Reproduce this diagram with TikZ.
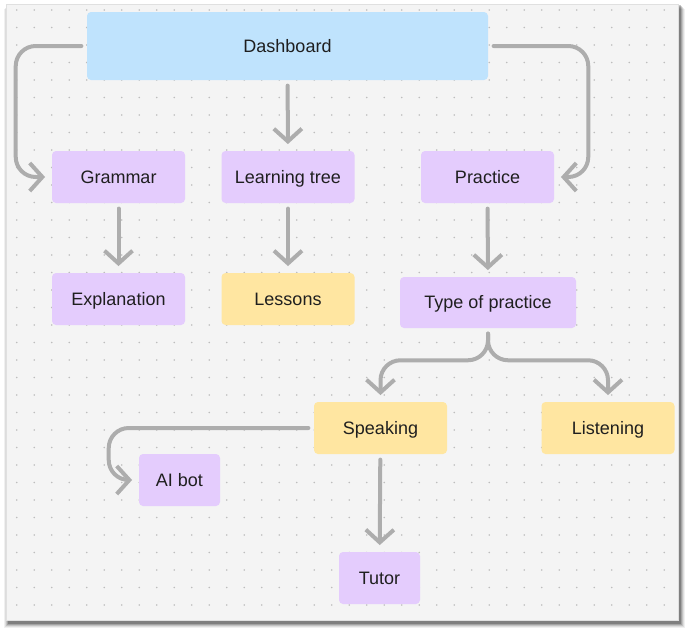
\documentclass[tikz,border=0pt]{standalone}
\usepackage{xcolor}
\usepackage{tikz}
\usepackage{fontspec}
\setmainfont{Liberation Sans}
\definecolor{boardblue}{HTML}{BFE3FD}
\definecolor{notepurple}{HTML}{E4CCFD}
\definecolor{noteyellow}{HTML}{FFE6A1}
\definecolor{linkgray}{HTML}{ADADAD}
\definecolor{canvasgray}{HTML}{F4F4F4}
\definecolor{dotgray}{HTML}{BDBDBD}
\usetikzlibrary{arrows.meta, positioning, calc}

\begin{document}
\begin{tikzpicture}[
    x=0.75pt, y=-0.75pt,
    card/.style={rectangle, rounded corners=3pt, minimum width=99.75pt, minimum height=39pt, inner sep=0pt, text height=9.7pt, text depth=0pt, text=black!88, font=\fontsize{13.5}{16}\selectfont},
    purple card/.style={card, fill=notepurple},
    yellow card/.style={card, fill=noteyellow},
    link/.style={draw=linkgray, line width=3pt, line cap=round, rounded corners=15pt, shorten <=4pt, shorten >=5pt, -{Straight Barb[length=9.5pt, width=21pt]}}
]
    \useasboundingbox (0,0) rectangle (688,633);

    \foreach \k/\op in {5/0.06, 4/0.08, 3/0.12, 2/0.16, 1/0.22}
        \fill[black, opacity=\op] (6-\k+3,4+\k) rectangle (678+\k+2,620+\k+3);
    \fill[canvasgray] (6,4) rectangle (678,620);
    \draw[black!12, line width=0.5pt] (6,4) rectangle (678,620);
    \foreach \i in {0,...,37}
        \foreach \j in {0,...,34}
            \fill[dotgray] (16.7+17.5*\i, 10+17.5*\j) circle (0.7pt);

    \node[card, fill=boardblue, minimum width=300.75pt, minimum height=51pt] (dashboard) at (287.5, 46) {Dashboard};

    \node[purple card] (grammar) at (118.5, 177) {Grammar};
    \node[purple card] (tree) at (288, 177) {Learning tree};
    \node[purple card] (practice) at (487.5, 177) {Practice};

    \node[purple card] (explanation) at (118.5, 299) {Explanation};
    \node[yellow card] (lessons) at (288, 299) {Lessons};
    \node[purple card, minimum width=132pt, minimum height=38.25pt] (type) at (488, 302.5) {Type of practice};

    \node[yellow card] (speaking) at (380.5, 428) {Speaking};
    \node[yellow card] (listening) at (608, 428) {Listening};
    \node[purple card, minimum width=60.75pt] (aibot) at (179.5, 480) {AI bot};
    \node[purple card, minimum width=60.75pt] (tutor) at (379.5, 578) {Tutor};

    \draw[link] (dashboard.west) -- ++(-71,0) |- (grammar.west);
    \draw[link] (dashboard.east) -- ++(100,0) |- (practice.east);
    \draw[link] (dashboard) -- (tree);
    \draw[link] (grammar) -- (explanation);
    \draw[link] (tree) -- (lessons);
    \draw[link] (practice) -- (type);
    \draw[link] (type.south) -- ++(0,32) -| (speaking.north);
    \draw[link] (type.south) -- ++(0,32) -| (listening.north);
    \draw[link] (speaking.west) -- ++(-205,0) |- (aibot.west);
    \draw[link] (speaking) -- (tutor);
\end{tikzpicture}
\end{document}
